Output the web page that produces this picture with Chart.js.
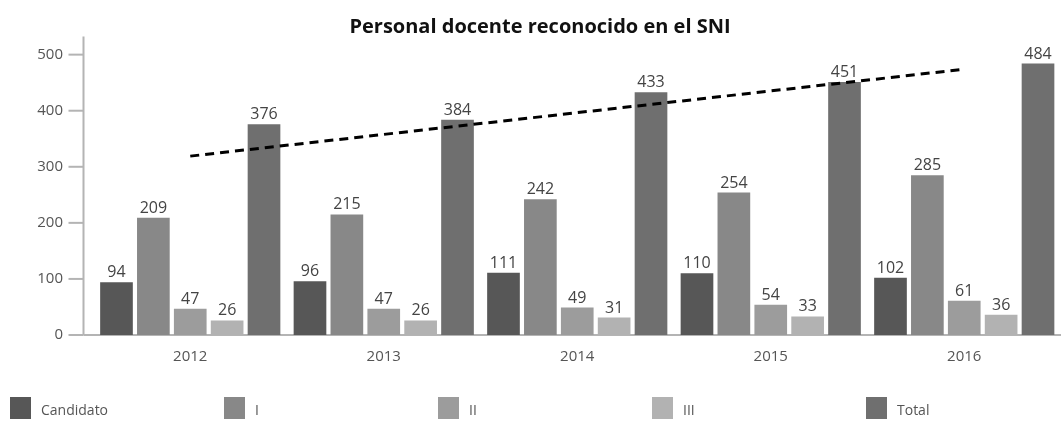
<!DOCTYPE html>
<html>
<head>
<meta charset="utf-8">
<script src="https://cdn.jsdelivr.net/npm/chart.js@4.4.1/dist/chart.umd.min.js"></script>
<style>
  html, body { margin: 0; padding: 0; background: #fff; }
  #wrap { width: 1061px; height: 438px; }
</style>
</head>
<body>
<div id="wrap"><canvas id="sniChart" width="1061" height="438"></canvas></div>
<script>
// Datos
const years = ['2012', '2013', '2014', '2015', '2016'];
const candidato = [94, 96, 111, 110, 102];
const nivelI = [209, 215, 242, 254, 285];
const nivelII = [47, 47, 49, 54, 61];
const nivelIII = [26, 26, 31, 33, 36];
const total = [376, 384, 433, 451, 484];
const seriesNames = ['Candidato', 'I', 'II', 'III', 'Total'];
const seriesColors = ['#575757', '#888888', '#9c9c9c', '#b2b2b2', '#6f6f6f'];
const trendYears = ['2012', '2016'];
const trendValues = [319, 474];
const yTicks = [0, 100, 200, 300, 400, 500];
const yMax = 527;

const FONT = "'Open Sans', 'Noto Sans', sans-serif";
const AXIS_COLOR = '#b4b4b4';
const TEXT_COLOR = '#555555';

const seriesValues = [candidato, nivelI, nivelII, nivelIII, total];

// Ejes dibujados a mano (la línea vertical queda a la izquierda del área)
const axesPlugin = {
    id: 'axesPlugin',
    beforeDatasetsDraw(chart) {
        const { ctx, chartArea, scales } = chart;
        const axisX = chartArea.left - 10;
        ctx.save();
        ctx.strokeStyle = AXIS_COLOR;
        ctx.lineWidth = 2;
        ctx.beginPath();
        ctx.moveTo(axisX, chartArea.top - 3);
        ctx.lineTo(axisX, chartArea.bottom);
        ctx.stroke();
        yTicks.forEach(v => {
            const y = scales.y.getPixelForValue(v);
            ctx.beginPath();
            ctx.moveTo(axisX - 15, y);
            ctx.lineTo(axisX, y);
            ctx.stroke();
        });
        ctx.beginPath();
        ctx.moveTo(axisX, chartArea.bottom);
        ctx.lineTo(chartArea.right, chartArea.bottom);
        ctx.stroke();
        ctx.restore();
    }
};

// Etiquetas de valor encima de cada barra
const valueLabels = {
    id: 'valueLabels',
    afterDatasetsDraw(chart) {
        const { ctx } = chart;
        ctx.save();
        ctx.font = '16px ' + FONT;
        ctx.fillStyle = '#444444';
        ctx.textAlign = 'center';
        ctx.textBaseline = 'alphabetic';
        chart.data.datasets.forEach((ds, i) => {
            if (ds.type !== 'bar') return;
            chart.getDatasetMeta(i).data.forEach((bar, j) => {
                ctx.fillText(ds.data[j], bar.x, bar.y - 5);
            });
        });
        ctx.restore();
    }
};

// Leyenda repartida a lo ancho, debajo del gráfico
const spreadLegend = {
    id: 'spreadLegend',
    afterDraw(chart) {
        const { ctx } = chart;
        ctx.save();
        ctx.font = '14px ' + FONT;
        ctx.textBaseline = 'middle';
        seriesNames.forEach((name, i) => {
            const x = 10 + i * 214;
            ctx.fillStyle = seriesColors[i];
            ctx.fillRect(x, 397, 21, 22);
            ctx.fillStyle = TEXT_COLOR;
            ctx.fillText(name, x + 31, 411);
        });
        ctx.restore();
    }
};

const barSets = seriesNames.map((name, i) => ({
    type: 'bar',
    label: name,
    data: seriesValues[i],
    backgroundColor: seriesColors[i],
    borderWidth: 0,
    categoryPercentage: 0.953,
    barPercentage: 0.886,
    order: 1
}));

const trendSet = {
    type: 'line',
    label: 'Tendencia',
    data: trendYears.map((yr, i) => ({ x: yr, y: trendValues[i] })),
    borderColor: '#000000',
    borderWidth: 3,
    borderDash: [9, 6],
    pointRadius: 0,
    fill: false,
    tension: 0,
    order: 0
};

const ctx = document.getElementById('sniChart').getContext('2d');
new Chart(ctx, {
    type: 'bar',
    data: { labels: years, datasets: [...barSets, trendSet] },
    options: {
        responsive: false,
        animation: false,
        layout: { padding: { left: 19, right: 0, top: 0, bottom: 59 } },
        scales: {
            x: {
                offset: true,
                grid: { display: false, drawTicks: false },
                border: { display: false },
                ticks: { padding: 13, color: TEXT_COLOR, font: { family: FONT, size: 15 } }
            },
            y: {
                min: 0,
                max: yMax,
                afterFit: scale => { scale.width = 74.5; },
                afterBuildTicks: scale => { scale.ticks = yTicks.map(v => ({ value: v })); },
                grid: { display: false, drawTicks: false },
                border: { display: false },
                ticks: { padding: 30.5, color: TEXT_COLOR, font: { family: FONT, size: 15 } }
            }
        },
        plugins: {
            legend: { display: false },
            tooltip: { enabled: false },
            title: {
                display: true,
                text: 'Personal docente reconocido en el SNI',
                color: '#111111',
                font: { family: FONT, size: 20, weight: 'bold' },
                padding: { top: 10, bottom: 0 }
            }
        }
    },
    plugins: [axesPlugin, valueLabels, spreadLegend]
});
</script>
</body>
</html>
